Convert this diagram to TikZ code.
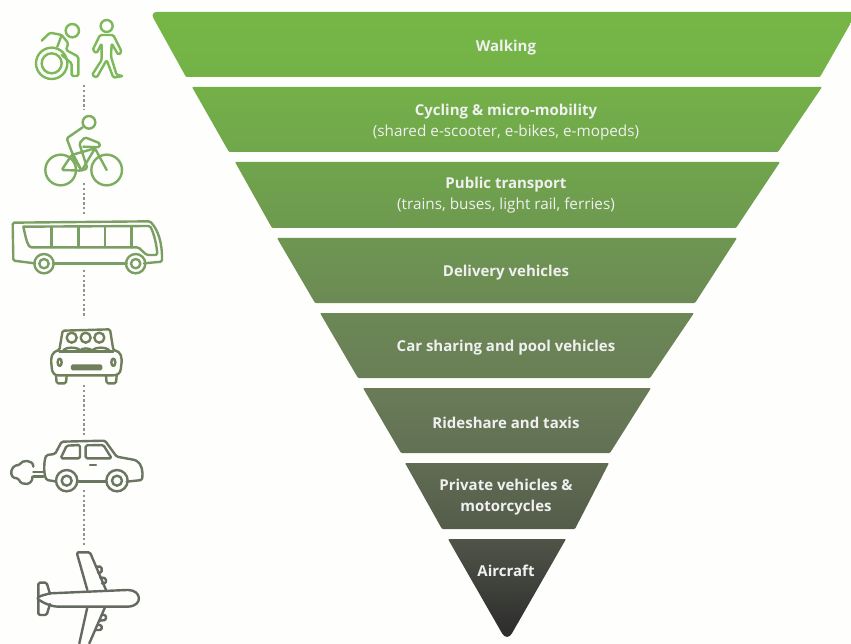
\documentclass[tikz,border=0pt]{standalone}
\usepackage{fontspec}
\setmainfont{Open Sans}
\definecolor{paper}{HTML}{FEFEFC}
\definecolor{iconA}{HTML}{7DB85A}
\definecolor{iconB}{HTML}{7CAD60}
\definecolor{iconC}{HTML}{7A9E64}
\definecolor{iconD}{HTML}{70805A}
\definecolor{iconE}{HTML}{6A7562}
\definecolor{iconF}{HTML}{646A60}
\definecolor{dotgrey}{HTML}{8E958A}
\newcommand{\subtxt}[1]{{\fontsize{15.3}{21}\selectfont\mdseries #1}}
\tikzset{
  band/.style 2 args={shade,top color=#1,bottom color=#2,rounded corners=1pt},
  label/.style={text=white!94!black,align=center,font=\fontsize{15}{21}\selectfont\bfseries,inner sep=0pt},
  icon/.style={line width=2.4pt,line join=round,line cap=round,rounded corners=1.5pt},
  dots/.style={dotgrey,line width=2.4pt,dash pattern=on 2.4pt off 2.4pt},
}
\definecolor{b1a}{RGB}{118,182,70}\definecolor{b1b}{RGB}{116,178,72}
\definecolor{b2a}{RGB}{116,176,72}\definecolor{b2b}{RGB}{112,167,76}
\definecolor{b3a}{RGB}{112,165,76}\definecolor{b3b}{RGB}{110,153,80}
\definecolor{b4a}{RGB}{110,150,82}\definecolor{b4b}{RGB}{108,138,84}
\definecolor{b5a}{RGB}{108,136,85}\definecolor{b5b}{RGB}{105,126,86}
\definecolor{b6a}{RGB}{105,124,87}\definecolor{b6b}{RGB}{98,112,84}
\definecolor{b7a}{RGB}{96,108,82}\definecolor{b7b}{RGB}{84,92,74}
\definecolor{b8a}{RGB}{80,84,72}\definecolor{b8b}{RGB}{42,42,42}
\begin{document}
\begin{tikzpicture}[x=1pt,y=-1pt]
\useasboundingbox (0,0) rectangle (851,644);
\clip (0,0) rectangle (851,644);
\fill[paper] (0,0) rectangle (851,644);
% bands
\path[band={b1a}{b1b}] (400,12) -- (857,12) -- (820,77) -- (186,77) [rounded corners=7pt] -- (150,12) -- cycle;
\path[band={b2a}{b2b}] (192,87) -- (822,87) -- (778,152) -- (229,152) -- cycle;
\path[band={b3a}{b3b}] (235,162) -- (780,162) -- (736,228) -- (272,228) -- cycle;
\path[band={b4a}{b4b}] (277,238) -- (737,238) -- (695,303) -- (315,303) -- cycle;
\path[band={b5a}{b5b}] (320,313) -- (694,313) -- (650,378) -- (358,378) -- cycle;
\path[band={b6a}{b6b}] (363,388) -- (651,388) -- (610,453) -- (401,453) -- cycle;
\path[band={b7a}{b7b}] (405,463) -- (609,463) -- (575,529) -- (442,529) -- cycle;
\path[band={b8a}{b8b}] (448,539) -- (566,539) [rounded corners=10pt] -- (507,642) [rounded corners=1pt] -- cycle;
% labels
\node[label] (walk) at (506,48) {Walking};
\node[label] (cyc) at (506,122) {Cycling \& micro-mobility\\\subtxt{(shared e-scooter, e-bikes, e-mopeds)}};
\node[label] (pub) at (506,195) {Public transport\\\subtxt{(trains, buses, light rail, ferries)}};
\node[label] (del) at (506,273) {Delivery vehicles};
\node[label] (car) at (506,348) {Car sharing and pool vehicles};
\node[label] (ride) at (506,423) {Rideshare and taxis};
\node[label] (priv) at (506,497) {Private vehicles \&\\motorcycles};
\node[label] (air) at (506,571) {Aircraft};
% dotted links
\draw[dots] (84,85) -- (84,110);
\draw[dots] (84,183) -- (84,215);
\draw[dots] (84,270) -- (84,318);
\draw[dots] (84,385) -- (84,436);
\draw[dots] (84,490) -- (84,545);
% wheelchair and walker
\begin{scope}[scale=1/3,icon,iconA]
\draw (155,190) circle (47);
\draw (155,190) circle (30);
\draw (217,92) circle (20);
\draw (125,122) -- (150,98) -- (185,105) -- (205,130) -- (198,150) -- (235,170) -- (235,228) -- (215,228) -- (215,190) -- (185,165);
\draw (185,105) -- (172,140);
\draw (320,78) circle (18);
\draw (300,105) -- (340,105) -- (365,155) -- (355,165) -- (335,130) -- (333,170) -- (350,225) -- (370,228) -- (340,233) -- (320,180) -- (290,233) -- (276,225) -- (305,180) -- (305,130) -- (290,160) -- (278,150) -- cycle;
\end{scope}
% cyclist
\begin{scope}[scale=1/3,icon,iconB]
\draw (182,510) circle (46);
\draw (320,510) circle (46);
\draw (267,367) circle (19);
\draw (185,510) -- (215,465) -- (245,512) -- cycle;
\draw (215,465) -- (285,445) -- (320,510);
\draw (285,445) -- (245,512);
\draw (248,382) -- (200,415) -- (215,455) -- (245,512) -- (262,505) -- (238,430) -- (255,412) -- (300,430) -- (298,442) -- (250,440);
\end{scope}
% bus
\begin{scope}[scale=1/3,icon,iconC]
\draw (105,790) -- (40,782) -- (38,668) -- (450,664) .. controls (475,690) and (487,730) .. (486,785) -- (432,790);
\draw (160,790) -- (380,790);
\draw (70,680) -- (450,678) .. controls (462,700) and (470,735) .. (472,765) -- (440,765) -- (415,742) -- (90,742) .. controls (78,725) and (75,700) .. (70,680);
\draw (155,680) -- (155,742) (235,680) -- (235,742) (315,680) -- (315,742) (395,680) -- (395,742);
\draw (132,791) circle (29) (132,791) circle (14);
\draw (407,791) circle (29) (407,791) circle (14);
\end{scope}
% shared car
\begin{scope}[shift={(0,300)},scale=1/3,icon,iconD]
\draw (155,200) .. controls (150,165) and (160,155) .. (178,150) -- (188,92) -- (330,88) -- (340,150) .. controls (362,155) and (368,170) .. (363,200) .. controls (362,222) and (350,226) .. (335,226) -- (180,226) .. controls (165,226) and (156,222) .. (155,200);
\draw (168,226) -- (170,250) -- (198,250) -- (200,226);
\draw (318,226) -- (320,250) -- (348,250) -- (350,226);
\draw (178,155) -- (340,155);
\draw (215,113) circle (15) (257,113) circle (15) (298,113) circle (15);
\draw (190,152) .. controls (195,140) and (235,140) .. (240,152);
\draw (240,152) .. controls (245,143) and (270,143) .. (277,152);
\draw (277,152) .. controls (285,140) and (320,140) .. (328,152);
\draw (179,187) ellipse (6 and 11);
\draw (340,187) ellipse (6 and 11);
\fill (213,193) rectangle (307,211);
\end{scope}
% car with exhaust
\begin{scope}[shift={(0,300)},scale=1/3,icon,iconE]
\draw (165,544) -- (140,540) .. controls (130,520) and (132,480) .. (140,465) -- (165,462) -- (185,425) -- (315,422) -- (350,470) -- (405,480) .. controls (425,490) and (430,515) .. (426,540) -- (380,545);
\draw (235,544) -- (318,544);
\draw (200,542) circle (32) (200,542) circle (15);
\draw (351,542) circle (32) (351,542) circle (15);
\draw (182,475) -- (200,437) -- (240,435) -- (240,475) -- cycle;
\draw (257,475) -- (257,436) -- (310,435) -- (335,475) -- cycle;
\draw (270,495) -- (288,495);
\draw (130,516) -- (100,516) (130,530) -- (100,530);
\draw (100,500) .. controls (100,478) and (65,480) .. (60,495) .. controls (30,495) and (25,535) .. (55,535) .. controls (65,560) and (100,555) .. (97,530);
\end{scope}
% aircraft
\begin{scope}[shift={(0,300)},scale=1/3,icon,iconF]
\draw (150,880) -- (380,870) .. controls (425,870) and (430,918) .. (380,920) -- (170,920) .. controls (140,915) and (125,905) .. (110,895) .. controls (125,885) and (135,885) .. (150,880);
\draw (262,870) -- (230,757) -- (270,757) -- (318,870);
\draw (150,882) -- (140,848) -- (115,848) -- (115,890);
\draw (150,912) -- (140,945) -- (115,945) -- (115,900);
\draw (262,922) -- (238,1030);
\draw (315,922) -- (268,1030);
\draw (288,800) -- (305,800) -- (305,818) -- (294,818);
\draw (300,832) -- (318,835) -- (318,850) -- (306,850);
\draw (306,945) -- (318,945) -- (318,960) -- (298,962);
\draw (296,975) -- (305,975) -- (305,990) -- (288,990);
\end{scope}
\end{tikzpicture}
\end{document}
